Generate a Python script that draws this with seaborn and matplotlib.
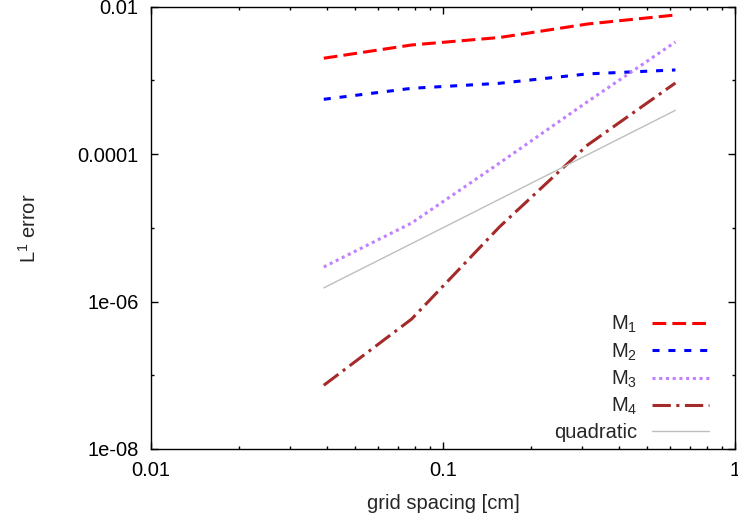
import numpy as np
import pandas as pd
import matplotlib
matplotlib.use("Agg")
import matplotlib.pyplot as plt
import matplotlib.ticker as mticker
import seaborn as sns

# --- DATA ---
grid_spacing = [0.0390625, 0.078125, 0.15625, 0.3125, 0.625]
err_m1 = [1.99e-3, 3.01e-3, 3.80e-3, 5.79e-3, 7.67e-3]
err_m2 = [5.52e-4, 7.78e-4, 9.10e-4, 1.22e-3, 1.38e-3]
err_m3 = [2.94e-6, 1.16e-5, 7.55e-5, 5.12e-4, 3.30e-3]
err_m4 = [7.31e-8, 5.79e-7, 1.03e-5, 1.32e-4, 9.18e-4]
err_quad = [1.53e-6, 6.10e-6, 2.44e-5, 9.77e-5, 3.91e-4]

labels = [r"M$_1$", r"M$_2$", r"M$_3$", r"M$_4$", "quadratic"]
x_ticks = [0.01, 0.1, 1]
y_ticks = [1e-8, 1e-6, 1e-4, 1e-2]
# --------------------------------------

sns.set_style("ticks")
plt.rcParams['font.family'] = ['Liberation Sans', 'DejaVu Sans']
plt.rcParams['mathtext.default'] = 'regular'
plt.rcParams['font.size'] = 14.5

series = [
    (err_m1, "#ff0000", 2.2, (0, (4.5, 2.0))),
    (err_m2, "#0000ff", 2.2, (0, (2.3, 2.9))),
    (err_m3, "#c080ff", 2.2, (0, (1.0, 1.2))),
    (err_m4, "#a52a2a", 2.2, (0, (6.0, 1.8, 1.0, 1.8))),
    (err_quad, "#bebebe", 1.0, "-"),
]

fig = plt.figure(figsize=(7.38, 5.21), dpi=100)
ax = fig.add_axes([0.2046, 0.1382, 0.7913, 0.8493])

for (vals, color, lw, ls), lab in zip(series, labels):
    df = pd.DataFrame({"h": grid_spacing, "err": vals})
    sns.lineplot(data=df, x="h", y="err", ax=ax, color=color, linewidth=lw,
                 linestyle=ls, label=lab)

ax.set_xscale("log")
ax.set_yscale("log")
ax.set_xlim(0.01, 1)
ax.set_ylim(1e-8, 1e-2)

ax.xaxis.set_major_locator(mticker.FixedLocator(x_ticks))
ax.xaxis.set_minor_locator(mticker.LogLocator(base=10, subs=np.arange(2, 10)))
ax.yaxis.set_major_locator(mticker.FixedLocator(y_ticks))
ax.yaxis.set_minor_locator(mticker.LogLocator(base=10, subs=[1.0]))
fmt = mticker.FuncFormatter(lambda v, p: "%g" % v)
ax.xaxis.set_major_formatter(fmt)
ax.yaxis.set_major_formatter(fmt)
ax.xaxis.set_minor_formatter(mticker.NullFormatter())
ax.yaxis.set_minor_formatter(mticker.NullFormatter())

ax.tick_params(which="both", direction="in", top=True, right=True, colors="black",
               labelsize=14.5)
ax.tick_params(which="major", length=4.8, width=1.0, pad=9)
ax.tick_params(which="minor", length=2.4, width=1.0)
for sp in ax.spines.values():
    sp.set_linewidth(1.0)
    sp.set_color("black")

ax.set_xlabel("grid spacing [cm]", fontsize=14.5, labelpad=10)
ax.set_ylabel(r"L$^1$ error", fontsize=14.5)
ax.yaxis.set_label_coords(-0.19, 0.5)

ax.legend(loc="lower right", bbox_to_anchor=(0.9555, 0.015), frameon=False,
          markerfirst=False, handlelength=2.85, handletextpad=0.7,
          labelspacing=0.3, borderpad=0, borderaxespad=0, fontsize=14.5)

fig.savefig("out.png", dpi=100)
